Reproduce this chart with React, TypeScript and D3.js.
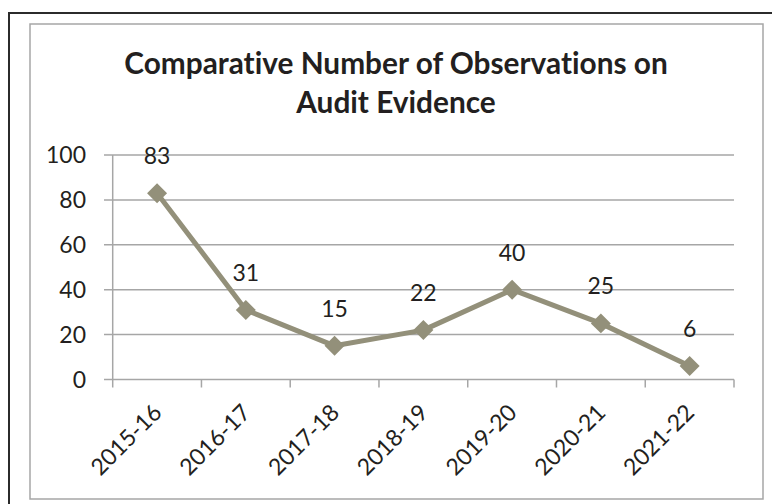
import React from "react";
import * as d3 from "d3";

const categories: string[] = ["2015-16", "2016-17", "2017-18", "2018-19", "2019-20", "2020-21", "2021-22"];
const observations: number[] = [83, 31, 15, 22, 40, 25, 6];
const yTicks: number[] = [0, 20, 40, 60, 80, 100];
const titleLines: string[] = ["Comparative Number of Observations on", "Audit Evidence"];

const W = 772;
const H = 504;
const LINE = "#93907a";
const GRID = "#a6a6a6";
const TEXT = "#231f20";
const FONT = "Lato, 'Open Sans', sans-serif";

export default function App() {
  const x = d3.scaleBand<string>().domain(categories).range([112.7, 734]).paddingInner(0).paddingOuter(0);
  const y = d3.scaleLinear().domain([0, 100]).range([379.5, 155]);
  const cx = (c: string) => (x(c) as number) + x.bandwidth() / 2;
  const line = d3
    .line<number>()
    .x((_, i) => cx(categories[i]))
    .y((d) => y(d));
  const marker = d3.symbol().type(d3.symbolSquare).size(200)() || "";
  const xTickPos = [...categories.map((c) => x(c) as number), 734];

  return (
    <svg
      width={W}
      height={H}
      style={{ position: "absolute", left: 0, top: 0, background: "#fff", fontVariantLigatures: "none" }}
    >
      <rect x={0} y={0} width={W} height={H} fill="#fff" />
      {/* outer frame (clipped) */}
      <rect x={9} y={13} width={800} height={520} fill="none" stroke="#2b2b2b" strokeWidth={2} />
      {/* inner chart border */}
      <rect x={30} y={24} width={733} height={475} fill="none" stroke="#a6a6a6" strokeWidth={1.5} />

      {/* title */}
      {titleLines.map((t, i) => (
        <text
          key={t}
          x={396}
          y={74 + i * 39}
          textAnchor="middle"
          fontFamily={FONT}
          fontWeight={700}
          fontSize={29.8}
          fill={TEXT}
          style={{ fontVariantLigatures: "none" }}
        >
          {t}
        </text>
      ))}

      {/* gridlines and y ticks */}
      {yTicks.map((v) => (
        <g key={v}>
          <line x1={104} x2={734} y1={y(v)} y2={y(v)} stroke={GRID} strokeWidth={1.5} />
          <text
            x={86}
            y={y(v)}
            dy="0.36em"
            textAnchor="end"
            fontFamily={FONT}
            fontSize={23}
            fill={TEXT}
          >
            {v}
          </text>
        </g>
      ))}
      {/* y axis */}
      <line x1={112.7} x2={112.7} y1={155} y2={379.5} stroke={GRID} strokeWidth={1.5} />
      {/* x ticks */}
      {xTickPos.map((p, i) => (
        <line key={i} x1={p} x2={p} y1={379.5} y2={387.5} stroke={GRID} strokeWidth={1.5} />
      ))}
      {/* x labels */}
      {categories.map((c) => (
        <text
          key={c}
          transform={`translate(${cx(c) + 6},${414}) rotate(-45)`}
          textAnchor="end"
          fontFamily={FONT}
          fontSize={23}
          fill={TEXT}
        >
          {c}
        </text>
      ))}

      {/* series */}
      <path d={line(observations) || ""} fill="none" stroke={LINE} strokeWidth={5} strokeLinejoin="round" />
      {observations.map((v, i) => (
        <path
          key={i}
          d={marker}
          transform={`translate(${cx(categories[i])},${y(v)}) rotate(45)`}
          fill={LINE}
        />
      ))}
      {observations.map((v, i) => (
        <text
          key={i}
          x={cx(categories[i])}
          y={y(v) - 29}
          textAnchor="middle"
          fontFamily={FONT}
          fontSize={23}
          fill={TEXT}
        >
          {v}
        </text>
      ))}
    </svg>
  );
}
